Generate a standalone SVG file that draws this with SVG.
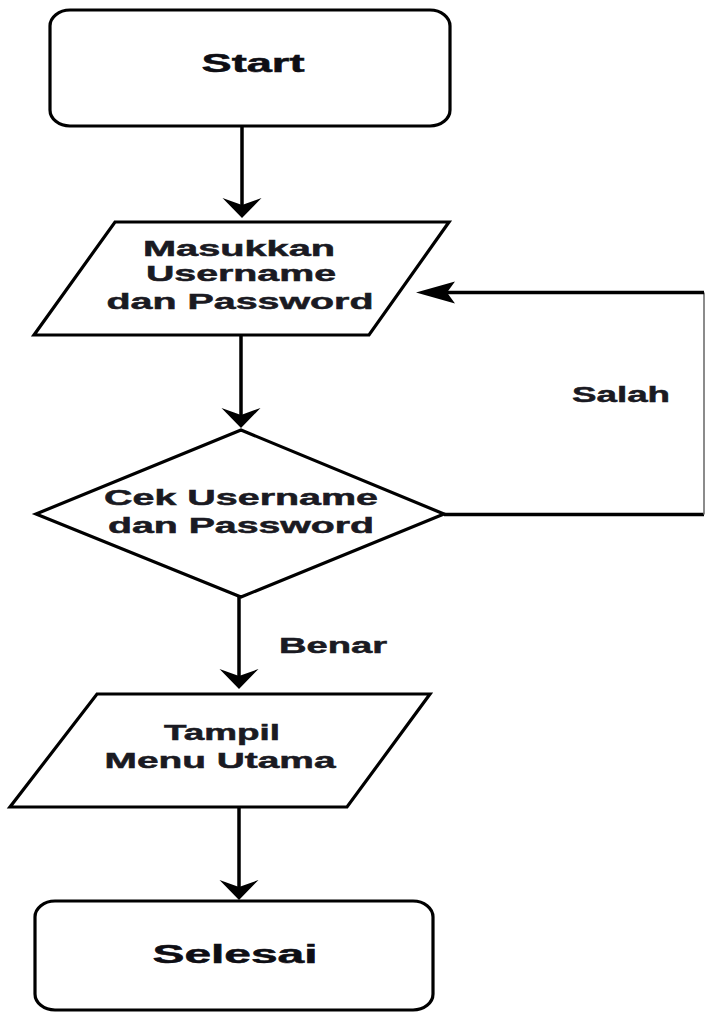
<svg xmlns="http://www.w3.org/2000/svg" width="706" height="1013" viewBox="0 0 706 1013">
  <style>
    .shape { fill: #ffffff; stroke: #000000; stroke-width: 3.2; stroke-linejoin: miter; }
    .edge { fill: none; stroke: #000000; stroke-width: 3.5; }
    .edge-thin { fill: none; stroke: #6e6e6e; stroke-width: 1.6; }
    .lbl { font-family: "Liberation Sans", Arial, sans-serif; font-weight: bold; font-size: 22px; fill: #1a1a22; stroke: #1a1a22; stroke-width: 0.5; text-anchor: middle; }
    .big { font-size: 25px; fill: #0e0e14; stroke: #0e0e14; }
  </style>
  <defs>
    <!-- barbed heads, notch at the origin -->
    <marker id="arrow-v" markerUnits="userSpaceOnUse" orient="auto" overflow="visible" markerWidth="40" markerHeight="40">
      <path d="M13,0 L-7,-19.5 L0,0 L-7,19.5 Z" fill="#000"/>
    </marker>
    <marker id="arrow-h" markerUnits="userSpaceOnUse" orient="auto" overflow="visible" markerWidth="40" markerHeight="40">
      <path d="M31,0 L-8,-11 L0,0 L-8,11 Z" fill="#000"/>
    </marker>
  </defs>
  <rect width="706" height="1013" fill="#ffffff"/>

  <g id="connectors">
    <path class="edge" d="M242,126 L242,205" marker-end="url(#arrow-v)"/>
    <path class="edge" d="M241,335 L241,415" marker-end="url(#arrow-v)"/>
    <path class="edge" d="M239,597 L239,676" marker-end="url(#arrow-v)"/>
    <path class="edge" d="M239,807 L239,887" marker-end="url(#arrow-v)"/>
    <!-- retry loop back to the input step -->
    <path class="edge" d="M444,514.5 L704,514.5"/>
    <path class="edge-thin" d="M704,514.5 L704,292.5"/>
    <path class="edge" d="M704,292.5 L447,292.5" marker-end="url(#arrow-h)"/>
    <text class="lbl" transform="translate(621,402) scale(1.8,1)" textLength="54.4" lengthAdjust="spacingAndGlyphs">Salah</text>
    <text class="lbl" transform="translate(333,653) scale(1.8,1)" textLength="60" lengthAdjust="spacingAndGlyphs">Benar</text>
  </g>

  <g id="start">
    <rect class="shape" x="50" y="10" width="400" height="116" rx="20" ry="16"/>
    <text class="lbl big" transform="translate(253,72) scale(1.8,1)" textLength="57.2" lengthAdjust="spacingAndGlyphs">Start</text>
  </g>

  <g id="input-credentials">
    <polygon class="shape" points="115,222 449,222 369,335 34,335"/>
    <text class="lbl" transform="translate(239,256) scale(1.8,1)" textLength="106.7" lengthAdjust="spacingAndGlyphs">Masukkan</text>
    <text class="lbl" transform="translate(241,281) scale(1.8,1)" textLength="105.6" lengthAdjust="spacingAndGlyphs">Username</text>
    <text class="lbl" transform="translate(240,309) scale(1.8,1)" textLength="148.3" lengthAdjust="spacingAndGlyphs">dan Password</text>
  </g>

  <g id="check-credentials">
    <polygon class="shape" points="241,430 444,514 241,597 36,514"/>
    <text class="lbl" transform="translate(241,505) scale(1.8,1)" textLength="152.2" lengthAdjust="spacingAndGlyphs">Cek Username</text>
    <text class="lbl" transform="translate(241,533) scale(1.8,1)" textLength="147.8" lengthAdjust="spacingAndGlyphs">dan Password</text>
  </g>

  <g id="main-menu">
    <polygon class="shape" points="97,694 430,694 347,807 10,807"/>
    <text class="lbl" transform="translate(222,740) scale(1.8,1)" textLength="64.4" lengthAdjust="spacingAndGlyphs">Tampil</text>
    <text class="lbl" transform="translate(220,768) scale(1.8,1)" textLength="128.3" lengthAdjust="spacingAndGlyphs">Menu Utama</text>
  </g>

  <g id="finish">
    <rect class="shape" x="35" y="901" width="398" height="109" rx="20" ry="16"/>
    <text class="lbl big" transform="translate(235,963) scale(1.8,1)" textLength="91.7" lengthAdjust="spacingAndGlyphs">Selesai</text>
  </g>
</svg>
